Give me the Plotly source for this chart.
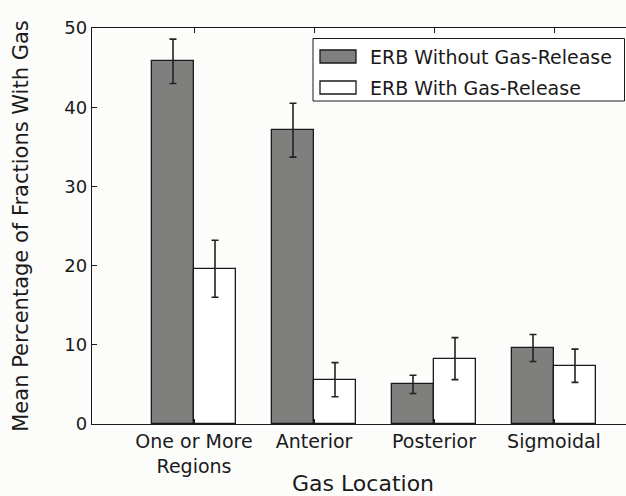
import numpy as np
import plotly.graph_objects as go

categories = ["One or More<br>Regions", "Anterior", "Posterior", "Sigmoidal"]
series_names = ["ERB Without Gas-Release", "ERB With Gas-Release"]
without_vals = [45.8, 37.1, 5.0, 9.6]
without_err = [2.8, 3.4, 1.15, 1.7]
with_vals = [19.6, 5.6, 8.25, 7.35]
with_err = [3.6, 2.15, 2.65, 2.1]
y_ticks = [0, 10, 20, 30, 40, 50]
x_title = "Gas Location"
y_title = "Mean Percentage of Fractions With Gas"

# figure is a bit wider than the 626px window: the axes run past the right edge as in the reference
W, H = 640, 496
ML, MR, MT, MB = 92, 0, 28, 72
bar_w = 0.35
ind = np.arange(len(categories))

FONT = "DejaVu Sans, Verdana, sans-serif"
INK = "#1a1a1a"
DARK = "#7f807e"
BG = "#fcfcfa"

fig = go.Figure()
fig.add_trace(go.Bar(
    x=ind + bar_w / 2, y=without_vals, width=bar_w, name=series_names[0],
    marker=dict(color=DARK, line=dict(color=INK, width=1.3)),
    error_y=dict(type="data", array=without_err, color="#222222", thickness=1.6, width=3.5),
    showlegend=False,
))
fig.add_trace(go.Bar(
    x=ind + 3 * bar_w / 2, y=with_vals, width=bar_w, name=series_names[1],
    marker=dict(color="white", line=dict(color=INK, width=1.3)),
    error_y=dict(type="data", array=with_err, color="#222222", thickness=1.6, width=3.5),
    showlegend=False,
))

pw, ph = W - ML - MR, H - MT - MB
def px(xp):
    return (xp - ML) / pw
def py(yp):
    return (H - MB - yp) / ph

# manual matplotlib-style legend
shapes = [dict(type="rect", xref="paper", yref="paper", x0=px(313), x1=px(624.5), y0=py(101), y1=py(38.5),
               line=dict(color=INK, width=1), fillcolor="white", layer="above")]
legend_rows = [(56.5, DARK), (87.5, "white")]
annotations = []
for (yc, col), name in zip(legend_rows, series_names):
    shapes.append(dict(type="rect", xref="paper", yref="paper", x0=px(320), x1=px(356),
                       y0=py(yc + 6.5), y1=py(yc - 6.5), line=dict(color=INK, width=1.3),
                       fillcolor=col, layer="above"))
    annotations.append(dict(xref="paper", yref="paper", x=px(368), y=py(yc), text=name,
                            showarrow=False, xanchor="left", yanchor="middle",
                            font=dict(family=FONT, size=19, color=INK)))
# x axis title sits at the bottom edge, as in the reference
annotations.append(dict(xref="paper", yref="paper", x=px(363), y=py(483.5), text=x_title,
                        showarrow=False, xanchor="center", yanchor="middle",
                        font=dict(family=FONT, size=22, color=INK)))

fig.update_layout(
    width=W, height=H,
    margin=dict(l=ML, r=MR, t=MT, b=MB, pad=0, autoexpand=False),
    paper_bgcolor=BG, plot_bgcolor=BG,
    barmode="overlay", bargap=0,
    font=dict(family=FONT, size=19, color=INK),
    shapes=shapes, annotations=annotations,
    showlegend=False,
)
fig.update_xaxes(
    range=[-0.5, -0.5 + pw / 120.0], tickvals=ind + bar_w, ticktext=categories,
    ticks="inside", ticklen=5, tickcolor=INK, tickwidth=1,
    showline=True, linecolor=INK, linewidth=1.3, mirror="ticks",
    showgrid=False, zeroline=False, automargin=False,
    tickfont=dict(family=FONT, size=19, color=INK),
)
fig.update_yaxes(
    range=[0, 50], tickvals=y_ticks,
    ticks="inside", ticklen=5, tickcolor=INK, tickwidth=1,
    showline=True, linecolor=INK, linewidth=1.3, mirror=False,
    showgrid=False, zeroline=False, automargin=False,
    tickfont=dict(family=FONT, size=18, color=INK),
    title=dict(text=y_title, font=dict(family=FONT, size=21, color=INK), standoff=29),
)
fig.write_html("out.html", config={"displayModeBar": False},
               post_script="document.body.style.margin='0';document.body.style.overflow='hidden';")
